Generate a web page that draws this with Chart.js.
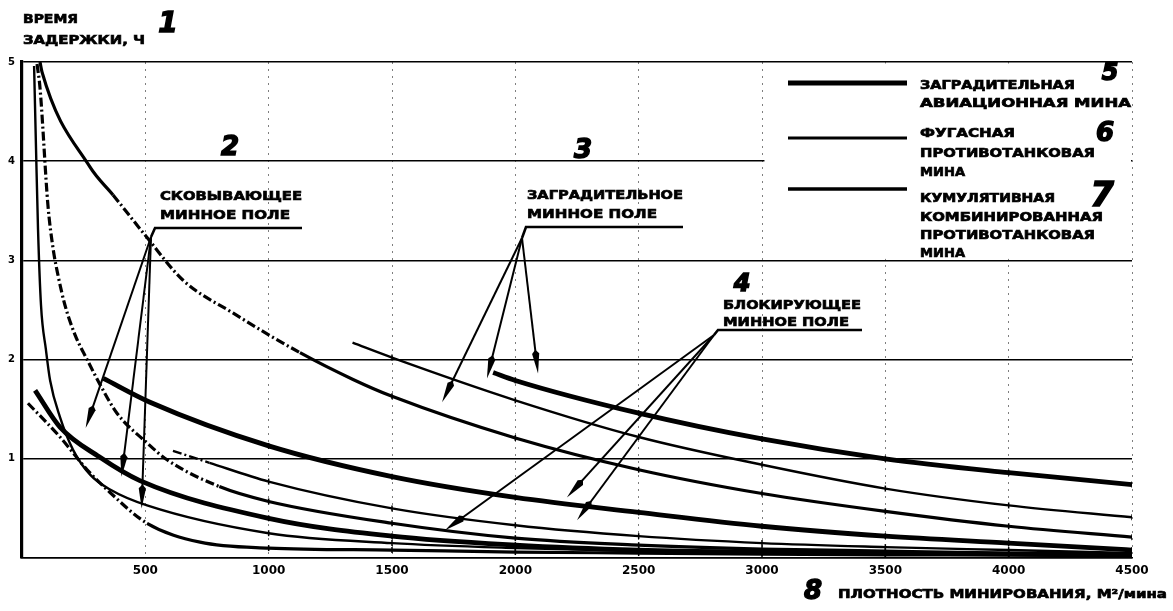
<!DOCTYPE html>
<html lang="ru">
<head>
<meta charset="utf-8">
<title>Время задержки и плотность минирования</title>
<script src="https://cdn.jsdelivr.net/npm/chart.js@4.4.1/dist/chart.umd.min.js"></script>
<style>
  html, body { margin: 0; padding: 0; background: #fff; }
  #wrap { position: relative; width: 1173px; height: 611px; }
</style>
</head>
<body>
<div id="wrap"><canvas id="grafico"></canvas></div>
<script>
// плотность минирования (м²/мина) -> время задержки (ч)
// заградительное минное поле
const zagAviaX = [1910, 2000, 2500, 3000, 3500, 4000, 4500];
const zagAviaY = [1.87, 1.79, 1.46, 1.20, 1.00, 0.86, 0.74];
const zagFugX = [1340, 1500, 2000, 2500, 3000, 3500, 4000, 4500];
const zagFugY = [2.17, 2.02, 1.59, 1.22, 0.94, 0.70, 0.53, 0.41];
const zagKumX = [73, 81, 276, 369, 507, 653, 855, 1127, 1342, 1500, 2000, 2500, 3000, 3500, 4000, 4500];
const zagKumY = [5.0, 4.9, 3.94, 3.66, 3.23, 2.80, 2.47, 2.07, 1.80, 1.63, 1.21, 0.89, 0.65, 0.47, 0.32, 0.21];

// блокирующее минное поле
const blkAviaX = [330, 519, 1000, 1500, 2000, 2500, 3000, 3500, 4000, 4500];
const blkAviaY = [1.81, 1.57, 1.13, 0.82, 0.61, 0.46, 0.32, 0.22, 0.15, 0.08];
const blkFugX = [612, 760, 1000, 1500, 2000, 2500, 3000, 3500, 4000, 4500];
const blkFugY = [1.08, 0.96, 0.77, 0.50, 0.33, 0.22, 0.15, 0.11, 0.08, 0.05];
const blkKumX = [61, 73, 105, 126, 146, 174, 215, 264, 316, 385, 507, 588, 800, 1000, 1500, 2000, 2500, 3000, 3500, 4000, 4500];
const blkKumY = [4.98, 4.74, 3.56, 3.12, 2.85, 2.55, 2.25, 2.00, 1.75, 1.46, 1.16, 0.99, 0.72, 0.57, 0.35, 0.20, 0.13, 0.09, 0.07, 0.05, 0.04];

// сковывающее минное поле
const skovAviaX = [53, 154, 313, 478, 1000, 1500, 2000, 2500, 3000, 3500, 4000, 4500];
const skovAviaY = [1.69, 1.32, 1.02, 0.78, 0.40, 0.22, 0.13, 0.08, 0.06, 0.05, 0.04, 0.03];
const skovFugX = [49, 57, 65, 77, 97, 114, 154, 207, 276, 357, 507, 1000, 1500, 2000, 2500, 3000, 3500, 4000, 4500];
const skovFugY = [4.96, 4.11, 3.31, 2.55, 2.10, 1.79, 1.42, 1.09, 0.84, 0.69, 0.53, 0.25, 0.15, 0.10, 0.07, 0.05, 0.04, 0.03, 0.02];
const skovKumX = [24, 154, 264, 357, 507, 722, 1000, 1500, 2000, 2500, 3000, 3500, 4000, 4500];
const skovKumY = [1.56, 1.22, 0.89, 0.66, 0.35, 0.16, 0.10, 0.08, 0.06, 0.05, 0.04, 0.03, 0.03, 0.02];

// подписи осей
const xTickLabels = ['500', '1000', '1500', '2000', '2500', '3000', '3500', '4000', '4500'];
const yTickLabels = ['1', '2', '3', '4', '5'];

// стрелки к кривым (острия в единицах графика)
const skovArrowX = [258, 403, 485];
const skovArrowY = [1.31, 0.82, 0.50];
const zagArrowX = [1703, 1885, 2092];
const zagArrowY = [1.57, 1.81, 1.86];
const blkArrowX = [1715, 2209, 2250];
const blkArrowY = [0.28, 0.61, 0.38];

const FONT = '"DejaVu Sans"';
const THICK = 4.8, THIN = 2.4, MED = 3.2;
const DASHDOT = [9, 3, 2, 3];

function curve(xs, ys, width, dashFrom, dashTo) {
    return {
        data: xs.map((x, i) => ({ x: x, y: ys[i] })),
        showLine: true,
        borderColor: '#000',
        borderWidth: width,
        cubicInterpolationMode: 'monotone',
        pointStyle: 'line',
        rotation: 90,
        pointBorderColor: '#000',
        pointBorderWidth: 1.5,
        pointRadius: c => (c.raw && c.raw.x > 0 && c.raw.x % 500 === 0) ? 3 : 0,
        segment: {
            borderDash: c => {
                if (dashFrom === undefined) return undefined;
                const a = c.p0.parsed.x, b = c.p1.parsed.x;
                return (a >= dashFrom && b <= dashTo) ? DASHDOT : undefined;
            }
        }
    };
}

const datasets = [
    curve(zagAviaX, zagAviaY, THICK),
    curve(zagFugX, zagFugY, THIN),
    curve(zagKumX, zagKumY, MED, 369, 1130),
    curve(blkAviaX, blkAviaY, THICK),
    curve(blkFugX, blkFugY, THIN, 612, 760),
    curve(blkKumX, blkKumY, MED, 61, 800),
    curve(skovAviaX, skovAviaY, THICK),
    curve(skovFugX, skovFugY, THIN),
    curve(skovKumX, skovKumY, MED, 24, 507)
];

// текст, растянутый на нужную ширину (и чуть утолщённый обводкой)
function fitText(ctx, str, left, cy, width, size) {
    ctx.save();
    ctx.font = `bold ${size}px ${FONT}`;
    const w = ctx.measureText(str).width;
    ctx.translate(left, cy + size * 0.36);
    ctx.scale(width / w, 1);
    ctx.textBaseline = 'alphabetic';
    ctx.textAlign = 'left';
    ctx.fillStyle = '#000';
    ctx.strokeStyle = '#000';
    ctx.lineWidth = 0.7;
    ctx.fillText(str, 0, 0);
    ctx.strokeText(str, 0, 0);
    ctx.restore();
}

function hand(ctx, str, cx, cy, size) {
    ctx.save();
    ctx.font = `italic bold ${size}px ${FONT}`;
    ctx.textAlign = 'center';
    ctx.textBaseline = 'middle';
    ctx.fillStyle = '#000';
    ctx.strokeStyle = '#000';
    ctx.lineWidth = 1.5;
    ctx.fillText(str, cx, cy);
    ctx.strokeText(str, cx, cy);
    ctx.restore();
}

function arrow(ctx, x0, y0, x1, y1) {
    const ang = Math.atan2(y1 - y0, x1 - x0);
    const len = 20, hw = 3.6;
    const bx = x1 - Math.cos(ang) * len, by = y1 - Math.sin(ang) * len;
    ctx.beginPath();
    ctx.moveTo(x0, y0);
    ctx.lineTo(bx, by);
    ctx.stroke();
    ctx.beginPath();
    ctx.moveTo(x1, y1);
    ctx.lineTo(bx + Math.sin(ang) * hw, by - Math.cos(ang) * hw);
    ctx.lineTo(bx - Math.cos(ang) * 4, by - Math.sin(ang) * 4);
    ctx.lineTo(bx - Math.sin(ang) * hw, by + Math.cos(ang) * hw);
    ctx.closePath();
    ctx.fill();
}

function fieldLabel(ctx, chart, l1, l2, w1, w2, left, top, gap, ox, oy, lineY, lineEnd, tipsX, tipsY) {
    const sx = chart.scales.x, sy = chart.scales.y;
    fitText(ctx, l1, left, top, w1, 13);
    fitText(ctx, l2, left, top + gap, w2, 13);
    ctx.save();
    ctx.strokeStyle = '#000';
    ctx.fillStyle = '#000';
    ctx.lineWidth = 2.6;
    ctx.beginPath();
    ctx.moveTo(ox, oy);
    ctx.lineTo(ox + 4, lineY);
    ctx.lineTo(lineEnd, lineY);
    ctx.stroke();
    ctx.lineWidth = 2;
    tipsX.forEach((tx, i) => {
        arrow(ctx, ox, oy, sx.getPixelForValue(tx), sy.getPixelForValue(tipsY[i]));
    });
    ctx.restore();
}

const annotations = {
    id: 'annotations',
    beforeDatasetsDraw(chart) {
        const { ctx, scales: { x, y }, chartArea } = chart;
        // белое поле под легенду
        ctx.save();
        ctx.fillStyle = '#fff';
        const l = x.getPixelForValue(3010);
        const t = y.getPixelForValue(5) + 1.5;
        const b = y.getPixelForValue(3) - 1.5;
        ctx.fillRect(l, t, chartArea.right - 1 - l, b - t);
        ctx.restore();
    },
    afterDraw(chart) {
        const ctx = chart.ctx;

        // легенда
        const legendLines = [[83, THICK], [138, THIN + 0.6], [189, MED + 0.4]];
        ctx.save();
        ctx.strokeStyle = '#000';
        legendLines.forEach(([ly, w]) => {
            ctx.lineWidth = w;
            ctx.beginPath();
            ctx.moveTo(788, ly);
            ctx.lineTo(907, ly);
            ctx.stroke();
        });
        ctx.restore();
        const legendText = [
            ['ЗАГРАДИТЕЛЬНАЯ', 84, 155],
            ['АВИАЦИОННАЯ МИНА', 102, 211],
            ['ФУГАСНАЯ', 132, 95],
            ['ПРОТИВОТАНКОВАЯ', 152, 175],
            ['МИНА', 171, 45],
            ['КУМУЛЯТИВНАЯ', 197, 135],
            ['КОМБИНИРОВАННАЯ', 216, 183],
            ['ПРОТИВОТАНКОВАЯ', 234, 175],
            ['МИНА', 252, 45]
        ];
        legendText.forEach(([s, cy, w]) => fitText(ctx, s, 920, cy, w, 12.5));

        // подписи полей со стрелками
        fieldLabel(ctx, chart, 'СКОВЫВАЮЩЕЕ', 'МИННОЕ ПОЛЕ', 142, 130,
            160, 195, 19, 151, 237, 228, 302, skovArrowX, skovArrowY);
        fieldLabel(ctx, chart, 'ЗАГРАДИТЕЛЬНОЕ', 'МИННОЕ ПОЛЕ', 156, 130,
            527, 194, 19, 522, 238, 227, 683, zagArrowX, zagArrowY);
        fieldLabel(ctx, chart, 'БЛОКИРУЮЩЕЕ', 'МИННОЕ ПОЛЕ', 138, 126,
            723, 304, 17, 714, 335, 330, 862, blkArrowX, blkArrowY);

        // названия осей
        fitText(ctx, 'ВРЕМЯ', 23, 18, 55, 13);
        fitText(ctx, 'ЗАДЕРЖКИ, Ч', 23, 39, 122, 13);
        fitText(ctx, 'ПЛОТНОСТЬ МИНИРОВАНИЯ, М²/мина', 838, 593, 329, 13);

        // рукописные номера
        hand(ctx, '1', 168, 25, 28);
        hand(ctx, '2', 230, 148, 26);
        hand(ctx, '3', 583, 151, 26);
        hand(ctx, '4', 742, 285, 24);
        hand(ctx, '5', 1110, 74, 24);
        hand(ctx, '6', 1105, 134, 26);
        hand(ctx, '7', 1102, 197, 34);
        hand(ctx, '8', 813, 592, 26);
    }
};

Chart.defaults.font.family = FONT;
Chart.defaults.color = '#000';

new Chart(document.getElementById('grafico'), {
    type: 'scatter',
    data: { datasets: datasets },
    options: {
        responsive: true,
        maintainAspectRatio: false,
        animation: false,
        layout: { padding: { top: 62, right: 41, left: 0, bottom: 0 } },
        plugins: { legend: { display: false }, tooltip: { enabled: false } },
        scales: {
            x: {
                type: 'linear', min: 0, max: 4500,
                afterFit: s => { s.height = 53; },
                ticks: {
                    stepSize: 500, padding: 6, color: '#000',
                    font: { size: 12, weight: 'bold' },
                    callback: v => (v === 0 ? '' : xTickLabels[v / 500 - 1])
                },
                grid: { color: 'rgba(0,0,0,0.5)', lineWidth: 1, drawTicks: false },
                border: { display: true, color: '#000', width: 1.6, dash: [2, 5] }
            },
            y: {
                min: 0, max: 5,
                afterFit: s => { s.width = 22; },
                ticks: {
                    stepSize: 1, padding: 7, color: '#000',
                    font: { size: 10, weight: 'bold' },
                    callback: v => (v === 0 ? '' : yTickLabels[v - 1])
                },
                grid: { color: '#000', lineWidth: 1.5, drawTicks: false },
                border: { display: true, color: '#000', width: 3.2 }
            }
        }
    },
    plugins: [annotations]
});
</script>
</body>
</html>
